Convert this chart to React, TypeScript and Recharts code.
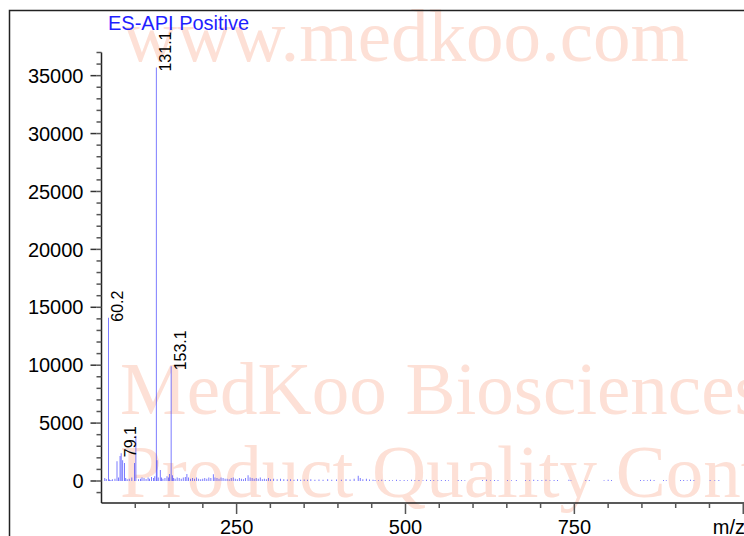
import { Bar, BarChart, LabelList, XAxis, YAxis } from 'recharts'

// main peaks (m/z, intensity)
const peakMz = [60.2, 73, 77.5, 79.1, 81.5, 84, 99, 101, 131.1, 132.2, 137, 153.1]
const peakIntensity = [14100, 1700, 2150, 2400, 1800, 1550, 1550, 3900, 35700, 1800, 950, 9900]
const labelledPeaks = ['60.2', '79.1', '131.1', '153.1']

// small noise peaks along the baseline
const noisePeaks: [number, number][] = [
  [55, 250], [57, 180], [62, 120], [64, 90], [66, 150], [70, 200], [75, 300], [86, 250],
  [88, 150], [91, 200], [95, 300], [105, 150], [108, 200], [110, 300], [113, 250], [116, 180],
  [119, 300], [121, 200], [124, 350], [127, 250], [129, 400], [134, 300], [139, 300], [141, 200],
  [144, 250], [147, 400], [149, 300], [150.5, 600], [155, 500], [157, 250], [159, 200], [162, 300],
  [165, 250], [168, 200], [171, 300], [174, 350], [176.5, 600], [179, 300], [182, 200], [185, 250],
  [188, 200], [191, 300], [194, 200], [197, 150], [200, 200], [203, 250], [206, 200], [209, 300],
  [212, 250], [215.5, 580], [218, 300], [221, 250], [224, 200], [227, 300], [230, 250], [233, 200],
  [236, 200], [239, 150], [242, 250], [245, 300], [248, 200], [251, 150], [254, 250], [257, 200],
  [260, 150], [263, 250], [267, 500], [270, 300], [273, 250], [276, 200], [279, 250], [282, 200],
  [285, 300], [288, 150], [291, 200], [294, 150], [297, 250], [300, 150], [305, 200], [310, 150],
  [315, 200], [320, 150], [325, 120], [330, 150], [335, 100], [340, 150], [345, 100], [350, 120],
  [355, 100], [360, 150], [366, 100], [372, 120], [378, 100], [385, 150], [391, 100], [398, 120],
  [405, 100], [412, 150], [418, 120], [424, 200], [430, 450], [433, 250], [437, 150], [442, 200],
  [447, 120], [452, 100],
]

// tiny dots at the high mass end
const baselineDots: [number, number][] = [
  [455, 90], [460, 70], [465, 100], [470, 80], [476, 90], [481, 70], [487, 110], [492, 80],
  [498, 90], [503, 70], [509, 100], [514, 80], [520, 90], [526, 70], [531, 100], [537, 80],
  [542, 90], [548, 70], [553, 80], [559, 90], [564, 70], [578, 80], [583, 90], [588, 70],
  [614, 80], [620, 100], [626, 70], [632, 90], [637, 80], [651, 90], [657, 70], [664, 80],
  [678, 90], [684, 70], [690, 100], [696, 80], [702, 90], [708, 110], [714, 70], [720, 90],
  [725, 80], [742, 100], [745, 70], [767, 80], [772, 90], [794, 70], [800, 110], [805, 80],
  [848, 80], [853, 90], [858, 70], [863, 100], [868, 80], [882, 90], [886, 70], [907, 80],
  [912, 90], [917, 70], [922, 110], [927, 80], [951, 90], [958, 70], [964, 80],
]

const xMinorTicks = [100, 150, 200, 250, 300, 350, 400, 450, 500, 550, 600, 650, 700, 750, 800, 850, 900, 950, 1000]
const xMajorTicks = [250, 500, 750, 1000]
const xTickLabels = [250, 500, 750]
const yMajorTicks = [0, 5000, 10000, 15000, 20000, 25000, 30000, 35000]
const yMinorTicks: number[] = []
for (let v = -1000; v <= 37000; v += 1000) yMinorTicks.push(v)

const data = [
  ...peakMz.map((mz, i) => ({ mz, intensity: peakIntensity[i], label: labelledPeaks.includes(String(mz)) ? String(mz) : undefined })),
  ...noisePeaks.map(([mz, intensity]) => ({ mz, intensity, label: undefined })),
  ...baselineDots.map(([mz, intensity]) => ({ mz, intensity, label: undefined })),
].sort((a, b) => a.mz - b.mz)

const FONT = '"Liberation Sans", Arial, Helvetica, sans-serif'
const SERIF = '"Liberation Serif", "Times New Roman", serif'
const TICK = '#555'
const BLUE = '#3b3bff'
const WATER = '#fde0d6'

const XTick = (props: any) => {
  const { x, y, payload } = props
  const v = payload.value
  return (
    <g>
      {xMajorTicks.includes(v) && <line x1={x} x2={x} y1={y} y2={y + 6} stroke={TICK} strokeWidth={1.5} />}
      {xTickLabels.includes(v) && (
        <text x={x} y={y + 26} textAnchor="middle" fontSize={20} fill="#000" fontFamily={FONT}>
          {v}
        </text>
      )}
    </g>
  )
}

const YTick = (props: any) => {
  const { x, y, payload } = props
  const v = payload.value
  if (!yMajorTicks.includes(v)) return null
  return (
    <g>
      <line x1={x} x2={x - 6} y1={y} y2={y} stroke="#333" strokeWidth={1.5} />
      <text x={x - 13} y={y} dy="0.36em" textAnchor="end" fontSize={20} fill="#000" fontFamily={FONT}>
        {v}
      </text>
    </g>
  )
}

const PeakLabel = (props: any) => {
  const { x, y, width, value } = props
  if (!value) return null
  const bx = x + width / 2 + 15
  const by = y + 4
  return (
    <text x={bx} y={by} transform={`rotate(-90 ${bx} ${by})`} fontSize={16} fill="#000" fontFamily={FONT}>
      {value}
    </text>
  )
}

const AxisName = (props: any) => {
  const vb = props.viewBox
  return (
    <text x={vb.x + vb.width - 5} y={vb.y + 31} textAnchor="end" fontSize={20} fill="#000" fontFamily={FONT}>
      m/z
    </text>
  )
}

export default function App() {
  return (
    <div style={{ position: 'fixed', left: 0, top: 0, width: 744, height: 536, overflow: 'hidden', background: '#fff' }}>
      <svg width={744} height={536} style={{ position: 'absolute', left: 0, top: 0 }}>
        <g fill={WATER} fontFamily={SERIF} fontSize={75}>
          <text x={123} y={61}>www.medkoo.com</text>
          <text x={120} y={414}>MedKoo Biosciences</text>
          <text x={120} y={497}>Product Quality Control</text>
        </g>
        <rect x={9.5} y={10.5} width={900} height={900} fill="none" stroke="#222" strokeWidth={1.5} />
      </svg>
      <div style={{ position: 'absolute', left: 0, top: 0 }}>
        <BarChart width={760} height={536} data={data} margin={{ top: 52.5, right: 10, bottom: 0, left: 0 }} barSize={1.5}>
          <XAxis
            dataKey="mz"
            type="number"
            domain={[50, 1010]}
            allowDataOverflow
            ticks={xMinorTicks}
            interval={0}
            height={33}
            tickSize={5}
            tickMargin={0}
            tick={XTick}
            tickLine={{ stroke: TICK, strokeWidth: 1.5 }}
            axisLine={{ stroke: '#222', strokeWidth: 1.5 }}
            label={<AxisName />}
          />
          <YAxis
            type="number"
            domain={[-1900, 37000]}
            allowDataOverflow
            ticks={yMinorTicks}
            interval={0}
            width={101.5}
            tickSize={5}
            tickMargin={0}
            tick={YTick}
            tickLine={{ stroke: TICK, strokeWidth: 1.5 }}
            axisLine={{ stroke: '#222', strokeWidth: 1.5 }}
          />
          <Bar dataKey="intensity" fill={BLUE} isAnimationActive={false}>
            <LabelList dataKey="label" content={PeakLabel} />
          </Bar>
        </BarChart>
      </div>
      <svg width={744} height={60} style={{ position: 'absolute', left: 0, top: 0, pointerEvents: 'none' }}>
        <text x={108} y={30} fontSize={20} fill="#1f1fff" fontFamily={FONT}>
          ES-API Positive
        </text>
      </svg>
    </div>
  )
}
